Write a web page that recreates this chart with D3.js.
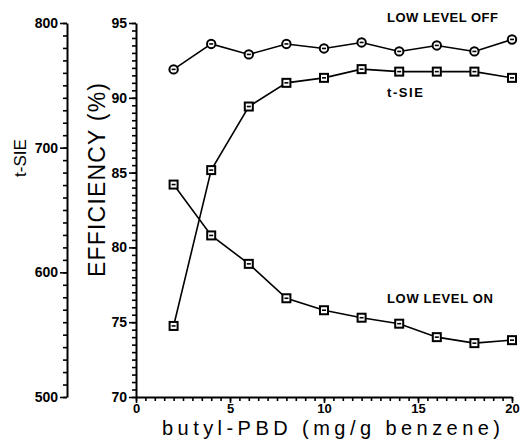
<!DOCTYPE html>
<html>
<head>
<meta charset="utf-8">
<script src="https://cdn.jsdelivr.net/npm/d3@7"></script>
<style>
  body { margin: 0; background: #fff; }
  svg { display: block; }
  .domain { stroke: #000; stroke-width: 2; }
  .tick line { stroke: #000; stroke-width: 1.6; }
  .tick text { font-family: "Liberation Sans", Arial, sans-serif; font-weight: bold; font-size: 14px; fill: #000; }
  .xax .tick text { font-size: 13px; }
  .series { fill: none; stroke: #000; stroke-width: 1.6; }
  .mark { fill: #fff; stroke: #000; stroke-width: 2; }
  .lbl { font-family: "Liberation Sans", Arial, sans-serif; font-size: 13px; font-weight: bold; fill: #000; }
  .title { font-family: "Liberation Sans", Arial, sans-serif; fill: #000; }
</style>
</head>
<body>
<script>
// concentration of butyl-PBD (mg/g benzene)
var conc = [2, 4, 6, 8, 10, 12, 14, 16, 18, 20];

// efficiency (%) with low level discriminator off / on
var effOff = [91.9, 93.6, 92.9, 93.6, 93.3, 93.7, 93.1, 93.5, 93.1, 93.9];
var effOn  = [84.2, 80.8, 78.9, 76.6, 75.8, 75.3, 74.9, 74.0, 73.6, 73.8];

// t-SIE values, right scale drawn on the far left
var tsie = [557, 682, 733, 752, 756, 763, 761, 761, 761, 756];

var xTicks = [0, 5, 10, 15, 20];
var effTicks = [70, 75, 80, 85, 90, 95];
var tsieTicks = [500, 600, 700, 800];

var width = 522, height = 441;

var svg = d3.select("body").append("svg")
    .attr("width", width)
    .attr("height", height);

var x = d3.scaleLinear().domain([0, 20]).range([136, 512]);
var yEff = d3.scaleLinear().domain([70, 95]).range([397, 23]);
var yT = d3.scaleLinear().domain([500, 800]).range([397, 23]);

//minor tick helper
function minorAxis(axisFn, scale, step, lo, hi, len){
    return axisFn(scale)
        .tickValues(d3.range(lo, hi + step / 2, step))
        .tickSize(len)
        .tickSizeOuter(0)
        .tickFormat("");
}

// x axis
svg.append("g").attr("transform", "translate(0,397)")
    .call(minorAxis(d3.axisBottom, x, 0.5, 0, 20, 4));
svg.append("g").attr("class", "xax").attr("transform", "translate(0,397)")
    .call(d3.axisBottom(x).tickValues(xTicks).tickSize(6).tickSizeOuter(0).tickPadding(1))
    .select(".domain").remove();

// efficiency axis
svg.append("g").attr("transform", "translate(136,0)")
    .call(minorAxis(d3.axisLeft, yEff, 0.5, 70, 95, 4));
svg.append("g").attr("transform", "translate(136,0)")
    .call(d3.axisLeft(yEff).tickValues(effTicks).tickSize(7).tickSizeOuter(0).tickPadding(2))
    .select(".domain").remove();

// t-SIE axis
svg.append("g").attr("transform", "translate(67,0)")
    .call(minorAxis(d3.axisLeft, yT, 10, 500, 800, 4));
svg.append("g").attr("transform", "translate(67,0)")
    .call(d3.axisLeft(yT).tickValues(tsieTicks).tickSize(7).tickSizeOuter(0).tickPadding(2))
    .select(".domain").remove();

// series lines
function drawSeries(vals, yScale, shape){
    var pts = conc.map(function(c, i){ return [x(c), yScale(vals[i])]; });
    svg.append("path")
        .attr("class", "series")
        .attr("d", d3.line()(pts));
    var g = svg.append("g").selectAll("g")
        .data(pts)
        .enter()
        .append("g")
        .attr("transform", function(d){ return "translate(" + d[0] + "," + d[1] + ")"; });
    if (shape == "circle"){
        g.append("circle").attr("class", "mark").attr("r", 4.2);
    } else {
        g.append("rect").attr("class", "mark")
            .attr("x", -4).attr("y", -4).attr("width", 8).attr("height", 8);
    }
    g.append("line")
        .attr("x1", -2).attr("x2", 2)
        .attr("stroke", "#000").attr("stroke-width", 1.6);
}

drawSeries(effOff, yEff, "circle");
drawSeries(tsie, yT, "square");
drawSeries(effOn, yEff, "square");

// series labels
svg.append("text").attr("class", "lbl").attr("x", 387).attr("y", 22)
    .attr("textLength", 111).text("LOW LEVEL OFF");
svg.append("text").attr("class", "lbl").attr("x", 387).attr("y", 97)
    .attr("textLength", 36).text("t-SIE");
svg.append("text").attr("class", "lbl").attr("x", 387).attr("y", 303)
    .attr("textLength", 106).text("LOW LEVEL ON");

// axis titles
svg.append("text").attr("class", "title")
    .attr("x", 331).attr("y", 435)
    .attr("text-anchor", "middle")
    .attr("font-size", 20)
    .attr("textLength", 338)
    .text("butyl-PBD  (mg/g  benzene)");

svg.append("text").attr("class", "title")
    .attr("transform", "translate(105,180) rotate(-90)")
    .attr("text-anchor", "middle")
    .attr("font-size", 23)
    .attr("textLength", 194)
    .text("EFFICIENCY  (%)");

svg.append("text").attr("class", "title")
    .attr("transform", "translate(26,158) rotate(-90)")
    .attr("text-anchor", "middle")
    .attr("font-size", 17)
    .text("t-SIE");
</script>
</body>
</html>
